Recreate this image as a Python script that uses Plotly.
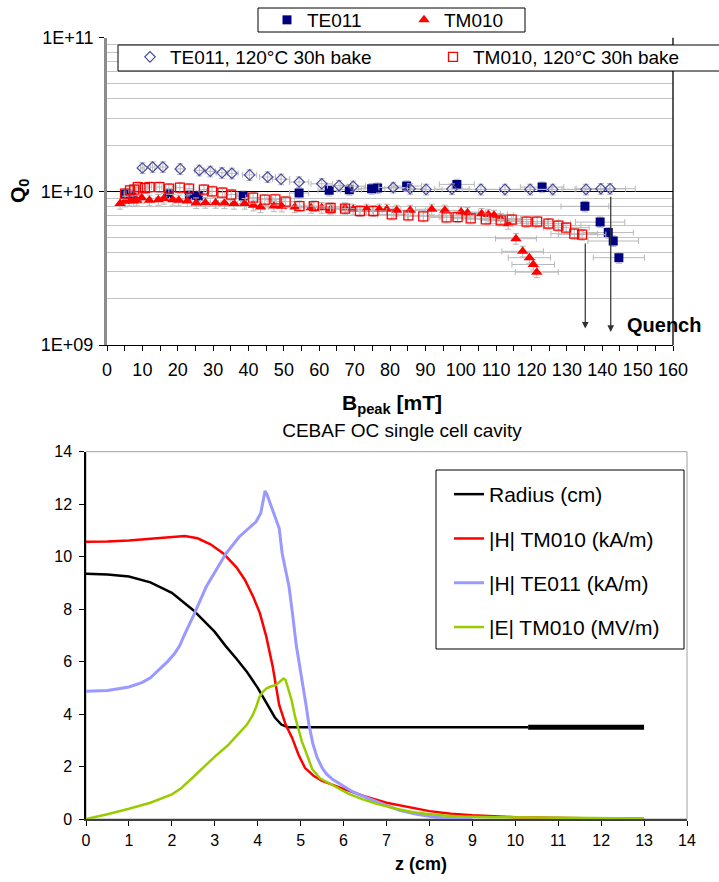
import plotly.graph_objects as go

FONT = "Liberation Sans, Arial, sans-serif"

# ---------------- Top chart data: Q0 vs Bpeak ----------------
te011_B = [5.0, 7.0, 17.3, 23.3, 25.8, 38.5, 54.3, 62.8, 68.5, 74.8, 76.5, 84.7, 98.9,
           123.0, 135.1, 139.4, 141.7, 143.1, 144.7]
te011_Q = [0.955e10, 0.95e10, 0.966e10, 0.942e10, 0.932e10, 0.932e10, 0.975e10, 1.015e10,
           1.026e10, 1.041e10, 1.05e10, 1.083e10, 1.11e10, 1.066e10, 0.799e10, 0.631e10,
           0.539e10, 0.475e10, 0.37e10]

tm010_B = [3.7, 5.1, 6.3, 7.4, 8.4, 9.8, 12.0, 14.5, 16.1, 18.6, 20.3, 22.7, 25.2, 27.8,
           30.7, 33.2, 35.9, 38.9, 41.4, 43.4, 47.2, 49.4, 53.1, 57.7, 60.7, 63.2, 67.3,
           69.6, 73.4, 77.0, 79.1, 81.9, 85.7, 91.8, 95.5, 100.1, 101.9, 105.9, 107.8,
           109.4, 111.3, 113.4, 115.6, 117.5, 119.4, 120.5, 121.5]
tm010_Q = [0.832, 0.861, 0.874, 0.865, 0.874, 0.910, 0.874, 0.883, 0.897, 0.883, 0.874,
           0.865, 0.839, 0.844, 0.844, 0.839, 0.832, 0.832, 0.811, 0.790, 0.802, 0.799,
           0.790, 0.783, 0.783, 0.764, 0.779, 0.764, 0.764, 0.764, 0.764, 0.752, 0.752,
           0.764, 0.752, 0.733, 0.726, 0.716, 0.708, 0.698, 0.664, 0.616, 0.492, 0.407,
           0.370, 0.334, 0.298]
tm010_Q = [q * 1e10 for q in tm010_Q]

te011_bake_B = [10.0, 12.9, 15.8, 20.7, 26.1, 29.2, 32.5, 35.3, 40.3, 45.4, 49.2, 54.3,
                60.7, 65.6, 69.6, 80.9, 85.7, 90.2, 97.5, 105.7, 112.5, 119.6, 126.0,
                135.4, 139.6, 142.2]
te011_bake_Q = [1.42, 1.44, 1.44, 1.40, 1.37, 1.35, 1.32, 1.31, 1.28, 1.24, 1.20, 1.15,
                1.12, 1.09, 1.08, 1.06, 1.04, 1.03, 1.035, 1.03, 1.03, 1.03, 1.03, 1.03,
                1.04, 1.04]
te011_bake_Q = [q * 1e10 for q in te011_bake_Q]

tm010_bake_B = [5.1, 6.5, 7.7, 8.7, 10.7, 12.0, 14.8, 17.5, 20.6, 23.2, 27.4, 29.7, 32.6,
                35.1, 41.3, 44.6, 47.6, 50.5, 54.4, 58.5, 63.2, 67.3, 71.5, 75.3, 80.5,
                85.2, 89.4, 96.0, 99.1, 102.8, 107.1, 111.3, 114.4, 118.6, 121.6, 124.8,
                127.6, 129.8, 132.1, 134.3]
tm010_bake_Q = [0.966, 1.015, 1.026, 1.066, 1.051, 1.066, 1.066, 1.041, 1.057, 1.041,
                1.026, 1.0, 0.981, 0.952, 0.910, 0.883, 0.887, 0.857, 0.802, 0.802, 0.779,
                0.772, 0.745, 0.745, 0.708, 0.698, 0.688, 0.677, 0.680, 0.667, 0.658,
                0.648, 0.655, 0.635, 0.635, 0.616, 0.598, 0.580, 0.530, 0.523]
tm010_bake_Q = [q * 1e10 for q in tm010_bake_Q]

# quench arrows (B position, log10 Q of tail, log10 Q of head)
quench_B = [135.2, 142.4]
quench_tail = [9.67, 9.974]
quench_head = [9.107, 9.085]

# ---------------- Bottom chart data: fields along z ----------------
radius_z = [0, 0.5, 1.0, 1.5, 2.0, 2.5, 3.0, 3.25, 3.5, 3.75, 4.0, 4.2, 4.4, 4.55, 4.7,
            4.9, 6, 7, 8, 9, 10, 10.3]
radius_v = [9.35, 9.32, 9.24, 9.02, 8.62, 7.96, 7.13, 6.6, 6.12, 5.6, 5.0, 4.42, 3.87,
            3.6, 3.5, 3.5, 3.5, 3.5, 3.5, 3.5, 3.5, 3.5]
radius_thick_z = [10.3, 11, 12, 13]
radius_thick_v = [3.5, 3.5, 3.5, 3.5]

htm_z = [0, 0.5, 1.0, 1.5, 2.0, 2.3, 2.6, 2.9, 3.2, 3.5, 3.7, 3.9, 4.05, 4.2, 4.35, 4.5,
         4.65, 4.8, 4.95, 5.1, 5.3, 5.5, 6.0, 6.5, 7.0, 7.5, 8.0, 8.5, 9.0, 10, 11, 12, 13]
htm_v = [10.57, 10.58, 10.62, 10.68, 10.76, 10.79, 10.7, 10.47, 10.12, 9.6, 9.12, 8.45,
         7.85, 6.95, 5.8, 4.35, 3.6, 3.1, 2.45, 1.95, 1.65, 1.45, 1.15, 0.86, 0.62, 0.45,
         0.30, 0.20, 0.14, 0.07, 0.035, 0.02, 0.01]

hte_z = [0, 0.5, 1.0, 1.3, 1.5, 1.72, 1.9, 2.06, 2.18, 2.3, 2.49, 2.8, 3.0, 3.26, 3.57,
         3.8, 3.96, 4.07, 4.12, 4.17, 4.22, 4.34, 4.45, 4.5, 4.57, 4.65, 4.73, 4.81, 4.9,
         5.0, 5.05, 5.12, 5.19, 5.28, 5.38, 5.5, 5.6, 5.75, 5.91, 6.2, 6.55, 7.0, 7.3,
         7.7, 8.15, 8.6, 9.0]
hte_v = [4.87, 4.9, 5.03, 5.2, 5.38, 5.73, 6.0, 6.3, 6.6, 7.05, 7.7, 8.85, 9.4, 10.12,
         10.76, 11.1, 11.33, 11.65, 12.1, 12.5, 12.35, 11.78, 11.25, 11.08, 10.12, 9.5,
         8.85, 7.83, 6.6, 5.6, 5.16, 4.4, 3.63, 2.9, 2.36, 1.95, 1.72, 1.5, 1.34, 1.05,
         0.8, 0.5, 0.33, 0.18, 0.07, 0.02, 0.0]

etm_z = [0, 0.5, 1.0, 1.5, 2.0, 2.2, 2.5, 3.0, 3.3, 3.56, 3.75, 3.88, 3.97, 4.04, 4.12,
         4.2, 4.3, 4.42, 4.52, 4.6, 4.65, 4.72, 4.79, 4.87, 4.95, 5.03, 5.11, 5.2, 5.27,
         5.45, 5.7, 6.12, 6.45, 6.77, 7.2, 7.62, 8.2, 8.69, 9.5, 10.5, 11.6, 12.3, 13]
etm_v = [0, 0.18, 0.39, 0.62, 0.94, 1.15, 1.6, 2.38, 2.8, 3.25, 3.6, 3.95, 4.3, 4.65,
         4.85, 4.97, 5.05, 5.1, 5.22, 5.35, 5.3, 4.9, 4.52, 3.9, 3.38, 2.95, 2.61, 2.2,
         1.9, 1.55, 1.32, 0.96, 0.75, 0.58, 0.4, 0.26, 0.15, 0.1, 0.07, 0.05, 0.04, 0.03,
         0.02]

W, H = 719, 882
def px(x):
    return x / W
def py(y):
    return 1 - y / H

# plot area pixel boxes
T_L, T_R, T_T, T_B = 107, 673, 37.7, 345
B_L, B_R, B_T, B_B = 86, 687, 451.7, 819

ERR = dict(color="#b8b8b8", thickness=1, width=3)
ex = dict(type="percent", value=5, **ERR)
ey = dict(type="percent", value=8, **ERR)

fig = go.Figure()

fig.add_trace(go.Scatter(x=te011_B, y=te011_Q, mode="markers", name="TE011",
                         legend="legend",
                         marker=dict(symbol="square", size=9, color="#000080"),
                         error_x=ex, error_y=ey, xaxis="x", yaxis="y"))
fig.add_trace(go.Scatter(x=tm010_B, y=tm010_Q, mode="markers", name="TM010",
                         legend="legend",
                         marker=dict(symbol="triangle-up", size=10, color="#ff0000"),
                         error_x=ex, error_y=ey, xaxis="x", yaxis="y"))
fig.add_trace(go.Scatter(x=te011_bake_B, y=te011_bake_Q, mode="markers",
                         name="TE011, 120°C 30h bake", legend="legend2",
                         marker=dict(symbol="diamond-open", size=8, color="#4a4aa0",
                                     line=dict(width=1.2)),
                         error_x=ex, error_y=ey, xaxis="x", yaxis="y"))
fig.add_trace(go.Scatter(x=tm010_bake_B, y=tm010_bake_Q, mode="markers",
                         name="TM010, 120°C 30h bake", legend="legend2",
                         marker=dict(symbol="square-open", size=9, color="#ff0000",
                                     line=dict(width=1.3)),
                         error_x=ex, error_y=ey, xaxis="x", yaxis="y"))

# bottom chart
fig.add_trace(go.Scatter(x=radius_z, y=radius_v, mode="lines", name="Radius (cm)",
                         legend="legend3", legendgroup="a",
                         line=dict(color="#000000", width=2.5), xaxis="x2", yaxis="y2"))
fig.add_trace(go.Scatter(x=radius_thick_z, y=radius_thick_v, mode="lines",
                         showlegend=False, legendgroup="a",
                         line=dict(color="#000000", width=5), xaxis="x2", yaxis="y2"))
fig.add_trace(go.Scatter(x=htm_z, y=htm_v, mode="lines", name="|H| TM010 (kA/m)",
                         legend="legend3", legendgroup="b",
                         line=dict(color="#ff0000", width=2.5), xaxis="x2", yaxis="y2"))
fig.add_trace(go.Scatter(x=hte_z, y=hte_v, mode="lines", name="|H| TE011 (kA/m)",
                         legend="legend3", legendgroup="c",
                         line=dict(color="#9999ff", width=3), xaxis="x2", yaxis="y2"))
fig.add_trace(go.Scatter(x=etm_z, y=etm_v, mode="lines", name="|E| TM010 (MV/m)",
                         legend="legend3", legendgroup="d",
                         line=dict(color="#99cc00", width=2.5), xaxis="x2", yaxis="y2"))

minor_q = [m * 10 ** e for e in (9, 10) for m in range(2, 10)]

shapes = [
    # right border of the upper plot
    dict(type="line", xref="x domain", yref="y domain", x0=1, x1=1, y0=0, y1=1,
         line=dict(color="#000000", width=1.3), layer="above"),
    # frame of the lower plot
    dict(type="rect", xref="x2 domain", yref="y2 domain", x0=0, x1=1, y0=0, y1=1,
         line=dict(color="#a0a0a0", width=1), layer="below"),
    # legend boxes
    dict(type="rect", xref="paper", yref="paper", x0=px(258), x1=px(525),
         y0=py(32), y1=py(8), line=dict(color="#000000", width=1),
         fillcolor="#ffffff", layer="above"),
    dict(type="rect", xref="paper", yref="paper", x0=px(118), x1=px(730),
         y0=py(71), y1=py(45), line=dict(color="#000000", width=1),
         fillcolor="#ffffff", layer="above"),
    dict(type="rect", xref="paper", yref="paper", x0=px(436), x1=px(684),
         y0=py(649), y1=py(470), line=dict(color="#000000", width=1),
         fillcolor="#ffffff", layer="above"),
]

annotations = [
    dict(text="<b>Q<sub>0</sub></b>", xref="paper", yref="paper", x=px(19), y=py(191),
         xanchor="center", yanchor="middle", textangle=-90, showarrow=False,
         font=dict(size=21, family=FONT, color="#000")),
    dict(text="<b>B<sub>peak</sub> [mT]</b>", xref="paper", yref="paper", x=px(392),
         y=py(404), xanchor="center", yanchor="middle", showarrow=False,
         font=dict(size=21, family=FONT, color="#000")),
    dict(text="<b>z (cm)</b>", xref="paper", yref="paper", x=px(421), y=py(864),
         xanchor="center", yanchor="middle", showarrow=False,
         font=dict(size=18, family=FONT, color="#000")),
    dict(text="<b>Quench</b>", xref="x", yref="y", x=157.5, y=9.13, xanchor="center",
         yanchor="middle", showarrow=False,
         font=dict(size=20, family=FONT, color="#000")),
]
for b, t, h in zip(quench_B, quench_tail, quench_head):
    annotations.append(dict(x=b, y=h, ax=b, ay=t, xref="x", yref="y", axref="x",
                            ayref="y", text="", showarrow=True, arrowhead=2,
                            arrowsize=1.1, arrowwidth=1.2, arrowcolor="#303030"))

fig.update_layout(
    width=W, height=H, autosize=False,
    margin=dict(l=0, r=0, t=0, b=0, pad=0, autoexpand=False),
    paper_bgcolor="#ffffff", plot_bgcolor="#ffffff",
    font=dict(family=FONT, color="#000000", size=16),
    title=dict(text="CEBAF OC single cell cavity", x=px(402), y=py(430),
               xanchor="center", yanchor="middle", font=dict(size=19, family=FONT)),
    xaxis=dict(domain=[px(T_L), px(T_R)], anchor="y", range=[0, 160], dtick=10,
               tick0=0, showgrid=False, zeroline=False, showline=True,
               linecolor="#000000", linewidth=1, ticks="outside", ticklen=5,
               tickcolor="#000000", tickfont=dict(size=18), tickangle=0,
               ticklabelstandoff=3,
               minor=dict(dtick=5, ticks="outside", ticklen=5, tickcolor="#000000")),
    yaxis=dict(domain=[py(T_B), py(T_T)], anchor="x", type="log", range=[9, 11],
               tickvals=[1e9, 1e10, 1e11], ticktext=["1E+09", "1E+10", "1E+11"],
               showgrid=True, gridcolor="#000000", gridwidth=1, zeroline=False,
               showline=True, linecolor="#8c8c8c", linewidth=3, ticks="outside",
               ticklen=5, tickcolor="#000000", tickfont=dict(size=18),
               ticklabelstandoff=2,
               minor=dict(tickvals=minor_q, showgrid=True, gridcolor="#c4c4c4",
                          gridwidth=1, ticks="")),
    xaxis2=dict(domain=[px(B_L), px(B_R)], anchor="y2", range=[0, 14], dtick=1,
                showgrid=False, zeroline=False, showline=True, linecolor="#404040",
                linewidth=1.5, ticks="outside", ticklen=5, tickcolor="#000000",
                tickfont=dict(size=16), tickangle=0, ticklabelstandoff=1),
    yaxis2=dict(domain=[py(B_B), py(B_T)], anchor="x2", range=[0, 14], dtick=2,
                showgrid=False, zeroline=False, showline=True, linecolor="#000000",
                linewidth=1.5, ticks="outside", ticklen=5, tickcolor="#000000",
                tickfont=dict(size=16), ticklabelstandoff=4),
    legend=dict(orientation="h", x=px(267), y=py(1), xanchor="left", yanchor="top",
                bgcolor="rgba(0,0,0,0)", borderwidth=0, traceorder="normal",
                font=dict(size=19, family=FONT), entrywidth=92),
    legend2=dict(orientation="h", x=px(130), y=py(38), xanchor="left", yanchor="top",
                 bgcolor="rgba(0,0,0,0)", borderwidth=0, traceorder="normal",
                 font=dict(size=19, family=FONT), entrywidth=258),
    legend3=dict(orientation="v", x=px(449), y=py(474), xanchor="left", yanchor="top",
                 bgcolor="rgba(0,0,0,0)", borderwidth=0, tracegroupgap=14,
                 traceorder="grouped", font=dict(size=21, family=FONT)),
    shapes=shapes,
    annotations=annotations,
    showlegend=True,
)

fig.write_html("out.html")
